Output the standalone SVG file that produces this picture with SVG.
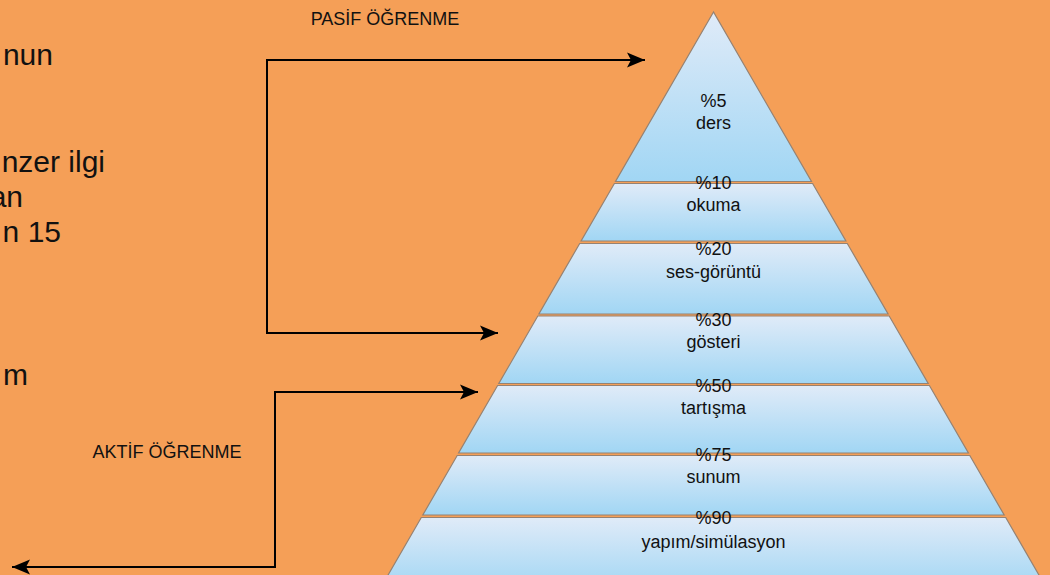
<svg xmlns="http://www.w3.org/2000/svg" width="1050" height="575" viewBox="0 0 1050 575">
  <style>
    .lvl { fill: url(#blueGrad); stroke: #968272; stroke-width: 1.2; }
    .lbl { font-family: "Liberation Sans", Arial, sans-serif; font-size: 18px; fill: #111; text-anchor: middle; }
    .hdr { font-family: "Liberation Sans", Arial, sans-serif; font-size: 18px; fill: #111; text-anchor: middle; }
    .big { font-family: "Liberation Sans", Arial, sans-serif; font-size: 30px; fill: #111; text-anchor: end; }
    .conn { fill: none; stroke: #000; stroke-width: 2; marker-start: url(#arrow); marker-end: url(#arrow); }
  </style>
  <defs>
    <linearGradient id="blueGrad" x1="0" y1="0" x2="0" y2="1">
      <stop offset="0" stop-color="#e0ebf8"/>
      <stop offset="1" stop-color="#a1d6f4"/>
    </linearGradient>
    <marker id="arrow" markerUnits="userSpaceOnUse" viewBox="-18 -8 18 16" markerWidth="18" markerHeight="16" refX="0" refY="0" orient="auto-start-reverse">
      <path d="M0,0 L-18,-7.5 L-14,0 L-18,7.5 Z" fill="#000"/>
    </marker>
  </defs>

  <rect id="background" x="0" y="0" width="1050" height="575" fill="#F59F57"/>

  <g id="side-text">
    <text class="big" x="53" y="65">nun</text>
    <text class="big" x="105" y="172">nzer ilgi</text>
    <text class="big" x="23" y="207">an</text>
    <text class="big" x="61" y="242">n 15</text>
    <text class="big" x="28" y="385">m</text>
  </g>

  <g id="header-pasif">
    <text class="hdr" x="385" y="25">PASİF ÖĞRENME</text>
  </g>
  <g id="header-aktif">
    <text class="hdr" x="167" y="458">AKTİF ÖĞRENME</text>
  </g>

  <g id="level-1">
    <polygon class="lvl" points="713.5,12 615.5,181.5 811.5,181.5"/>
    <text class="lbl" x="713.5" y="107">%5</text>
    <text class="lbl" x="713.5" y="128.5">ders</text>
  </g>
  <g id="level-2">
    <polygon class="lvl" points="614.4,183.5 812.6,183.5 845.9,241 581.1,241"/>
    <text class="lbl" x="713.5" y="188.5">%10</text>
    <text class="lbl" x="713.5" y="211">okuma</text>
  </g>
  <g id="level-3">
    <polygon class="lvl" points="579.7,243.5 847.3,243.5 888.1,314 538.9,314"/>
    <text class="lbl" x="713.5" y="255">%20</text>
    <text class="lbl" x="713.5" y="277.7">ses-görüntü</text>
  </g>
  <g id="level-4">
    <polygon class="lvl" points="537.8,316 889.2,316 928.2,383.5 498.8,383.5"/>
    <text class="lbl" x="713.5" y="325.7">%30</text>
    <text class="lbl" x="713.5" y="348.3">gösteri</text>
  </g>
  <g id="level-5">
    <polygon class="lvl" points="497.6,385.5 929.4,385.5 968.4,453 458.6,453"/>
    <text class="lbl" x="713.5" y="392.3">%50</text>
    <text class="lbl" x="713.5" y="414.3">tartışma</text>
  </g>
  <g id="level-6">
    <polygon class="lvl" points="457.2,455.5 969.8,455.5 1004.2,515 422.8,515"/>
    <text class="lbl" x="713.5" y="461">%75</text>
    <text class="lbl" x="713.5" y="483.3">sunum</text>
  </g>
  <g id="level-7">
    <polygon class="lvl" points="421.3,517.5 1005.7,517.5 1047.6,590 379.4,590"/>
    <text class="lbl" x="713.5" y="524">%90</text>
    <text class="lbl" x="713.5" y="547.7">yapım/simülasyon</text>
  </g>

  <g id="connectors">
    <path id="pasif-bracket" class="conn" d="M645,60 H267 V333 H498"/>
    <path id="aktif-bracket" class="conn" d="M478,392 H275 V567 H12"/>
  </g>
</svg>
